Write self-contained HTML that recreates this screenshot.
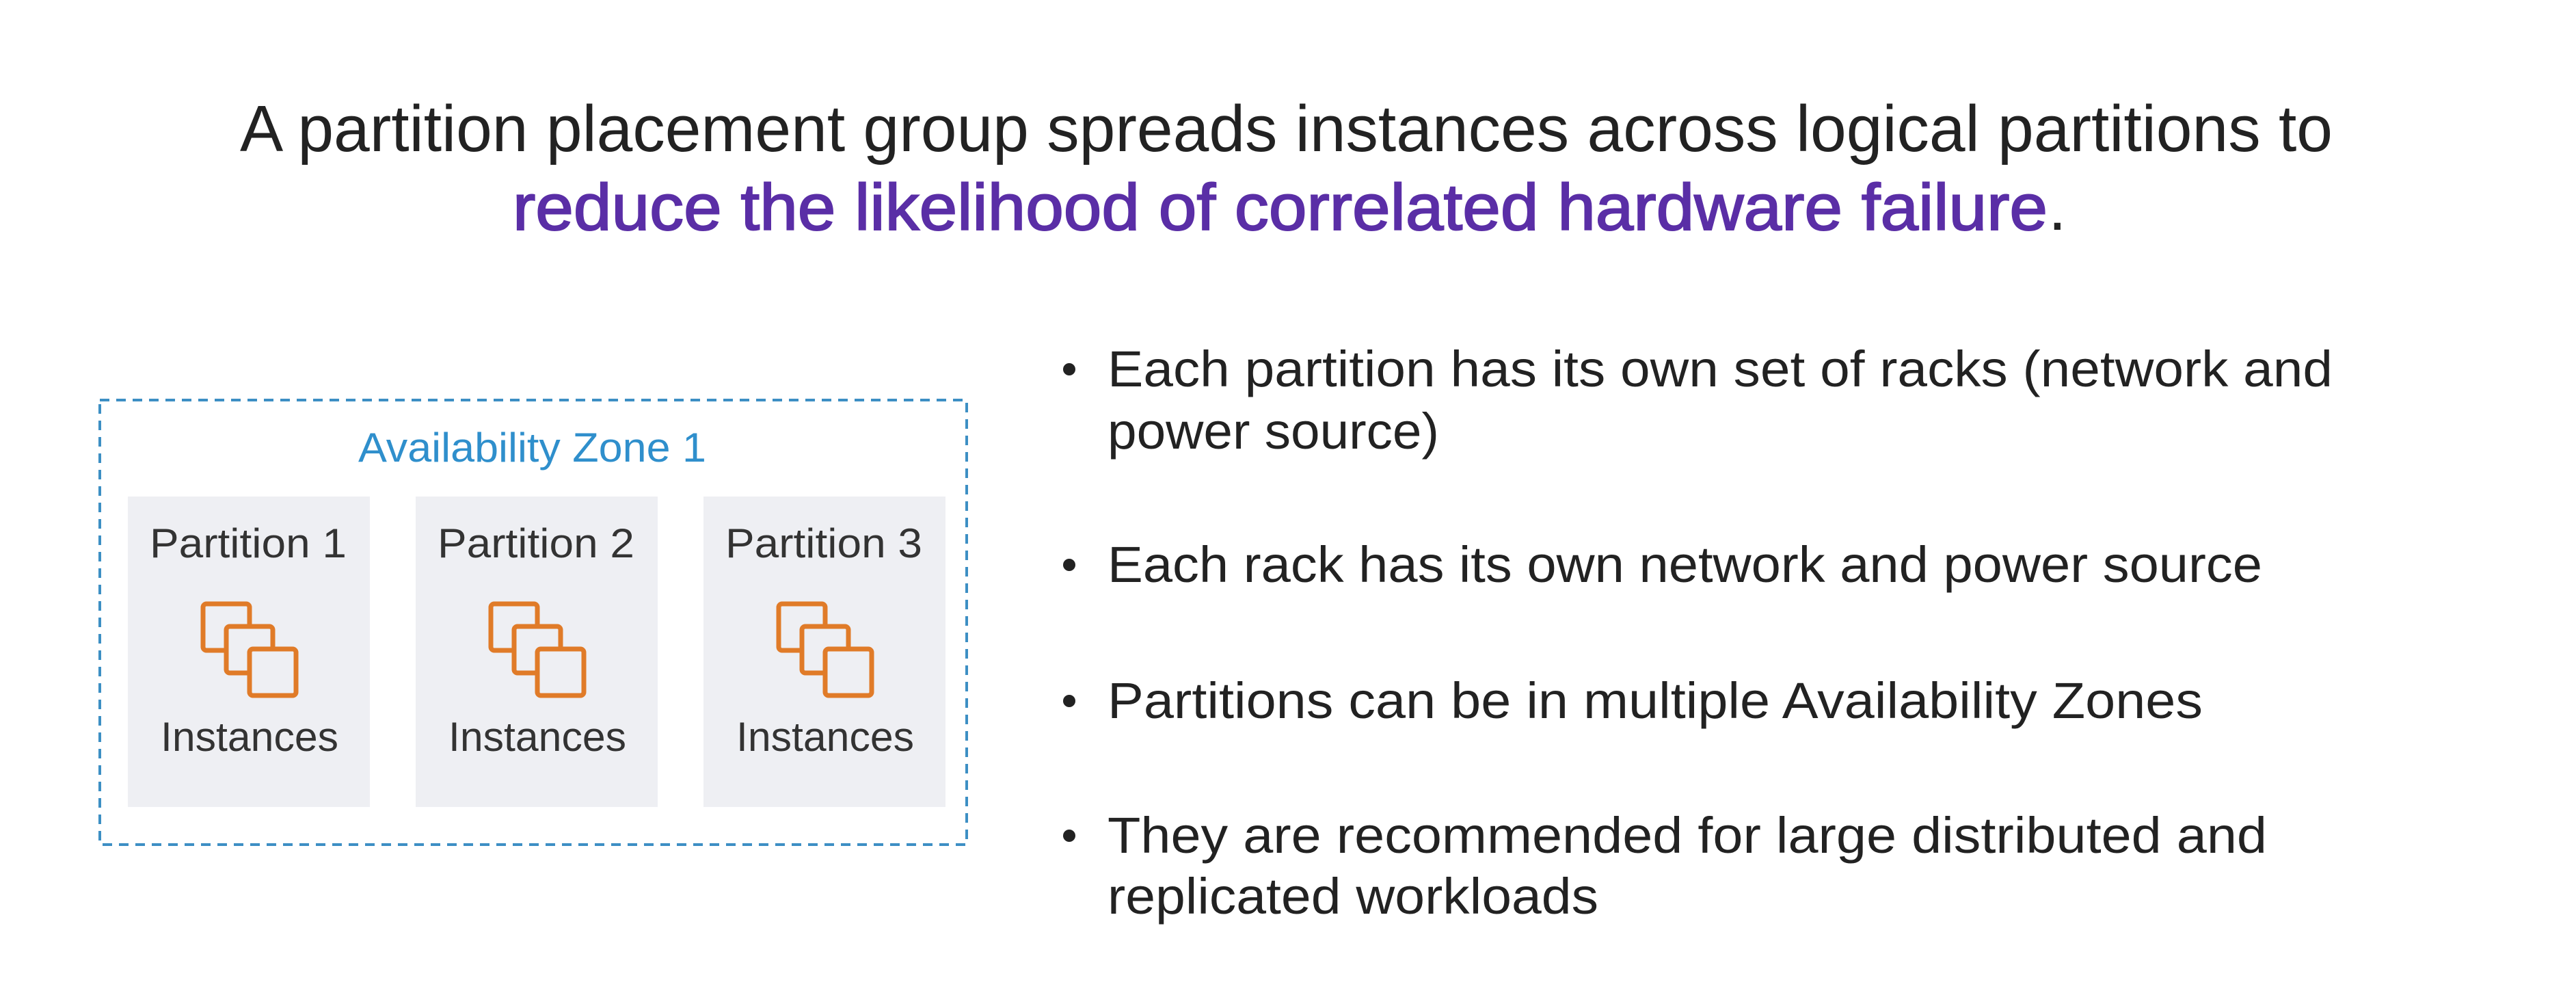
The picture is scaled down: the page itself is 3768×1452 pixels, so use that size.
<!DOCTYPE html>
<html><head><meta charset="utf-8"><style>
html,body{margin:0;padding:0;background:#fff;}
svg{display:block;}
text{font-family:"Liberation Sans",sans-serif;}
</style></head><body>
<svg width="3768" height="1452" viewBox="0 0 3768 1452" xmlns="http://www.w3.org/2000/svg">
<rect width="3768" height="1452" fill="#fff"/>
<text x="351" y="221" font-size="96" fill="#222" textLength="3061" lengthAdjust="spacingAndGlyphs">A partition placement group spreads instances across logical partitions to</text>
<text x="750" y="336" font-size="96" fill="#5a2ea6" stroke="#5a2ea6" stroke-width="2" textLength="2245" lengthAdjust="spacingAndGlyphs">reduce the likelihood of correlated hardware failure</text>
<text x="2996" y="336" font-size="96" fill="#222">.</text>

<rect x="146" y="585" width="1268" height="650" fill="none" stroke="#3d8fc4" stroke-width="4" stroke-dasharray="14,10"/>
<text x="524" y="675" font-size="60" fill="#2f8fcc" textLength="509" lengthAdjust="spacingAndGlyphs">Availability Zone 1</text>

<g>
<rect x="187" y="726" width="354" height="454" fill="#eeeff3"/>
<text x="219" y="815" font-size="60" fill="#333" textLength="288" lengthAdjust="spacingAndGlyphs">Partition 1</text>
<text x="235" y="1098" font-size="60" fill="#333" textLength="260" lengthAdjust="spacingAndGlyphs">Instances</text>
<g fill="#eeeff3" stroke="#e07b28" stroke-width="7">
<rect x="297" y="883" width="68" height="68" rx="5"/>
<rect x="331" y="916" width="68" height="68" rx="5"/>
<rect x="365" y="949" width="68" height="68" rx="5"/>
</g>
</g>
<g transform="translate(421,0)">
<rect x="187" y="726" width="354" height="454" fill="#eeeff3"/>
<text x="219" y="815" font-size="60" fill="#333" textLength="288" lengthAdjust="spacingAndGlyphs">Partition 2</text>
<text x="235" y="1098" font-size="60" fill="#333" textLength="260" lengthAdjust="spacingAndGlyphs">Instances</text>
<g fill="#eeeff3" stroke="#e07b28" stroke-width="7">
<rect x="297" y="883" width="68" height="68" rx="5"/>
<rect x="331" y="916" width="68" height="68" rx="5"/>
<rect x="365" y="949" width="68" height="68" rx="5"/>
</g>
</g>
<g transform="translate(842,0)">
<rect x="187" y="726" width="354" height="454" fill="#eeeff3"/>
<text x="219" y="815" font-size="60" fill="#333" textLength="288" lengthAdjust="spacingAndGlyphs">Partition 3</text>
<text x="235" y="1098" font-size="60" fill="#333" textLength="260" lengthAdjust="spacingAndGlyphs">Instances</text>
<g fill="#eeeff3" stroke="#e07b28" stroke-width="7">
<rect x="297" y="883" width="68" height="68" rx="5"/>
<rect x="331" y="916" width="68" height="68" rx="5"/>
<rect x="365" y="949" width="68" height="68" rx="5"/>
</g>
</g>

<g fill="#222">
<circle cx="1564" cy="540" r="9"/>
<circle cx="1564" cy="826" r="9"/>
<circle cx="1564" cy="1025" r="9"/>
<circle cx="1564" cy="1222" r="9"/>
</g>
<g font-size="74" fill="#222">
<text x="1620" y="565" textLength="1792" lengthAdjust="spacingAndGlyphs">Each partition has its own set of racks (network and</text>
<text x="1620" y="656" textLength="485" lengthAdjust="spacingAndGlyphs">power source)</text>
<text x="1620" y="851" textLength="1689" lengthAdjust="spacingAndGlyphs">Each rack has its own network and power source</text>
<text x="1620" y="1050" textLength="1602" lengthAdjust="spacingAndGlyphs">Partitions can be in multiple Availability Zones</text>
<text x="1620" y="1247" textLength="1696" lengthAdjust="spacingAndGlyphs">They are recommended for large distributed and</text>
<text x="1620" y="1336" textLength="718" lengthAdjust="spacingAndGlyphs">replicated workloads</text>
</g>
</svg>
</body></html>
